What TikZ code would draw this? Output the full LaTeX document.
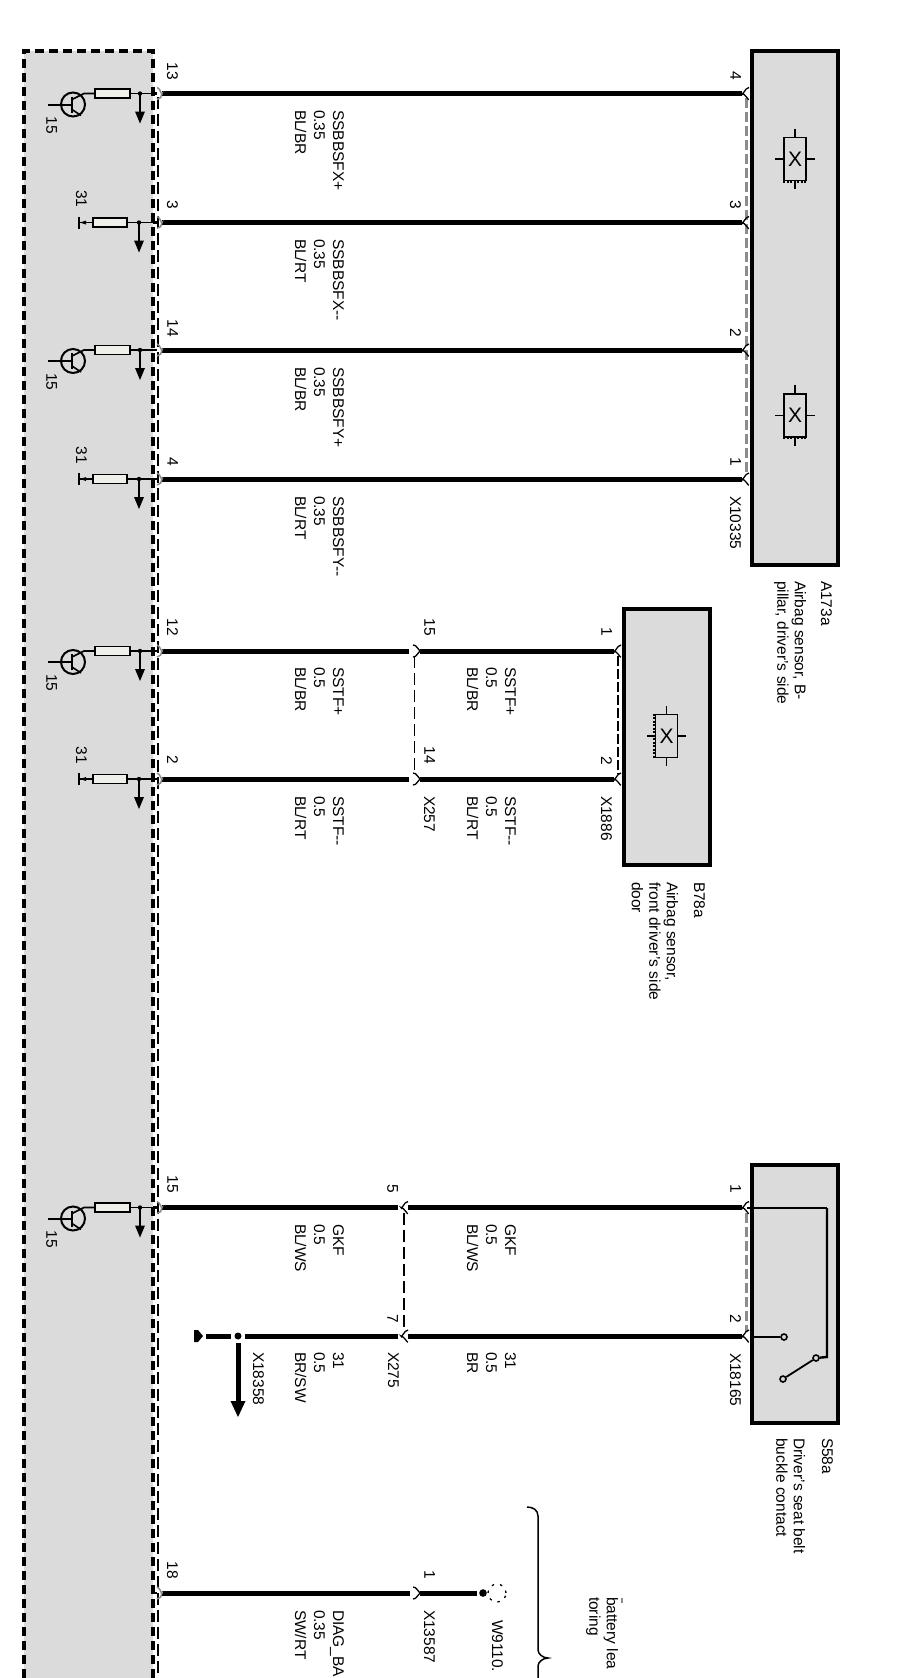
\documentclass[tikz,border=0pt]{standalone}
\usepackage{fontspec}
\setmainfont{Liberation Sans}
\usetikzlibrary{calc}
\definecolor{modgrey}{HTML}{DBDBDB}
\definecolor{resfill}{HTML}{F0F0EA}
\definecolor{pingrey}{HTML}{8C8C8C}
\tikzset{
  txt/.style={rotate=-90,inner sep=0pt,outer sep=0pt,anchor=north west,align=left,font=\fontsize{15.5}{19}\selectfont},
  desc/.style={txt,font=\fontsize{15.5}{17.5}\selectfont},
  pin/.style={rotate=-90,inner sep=0pt,outer sep=0pt,anchor=north east,font=\fontsize{15.5}{17}\selectfont},
  wire/.style={line width=5pt},
  modbox/.style={draw=black,line width=3.4pt,fill=modgrey,line join=miter},
  moddash/.style={draw=black,line width=3.2pt,dash pattern=on 9pt off 5pt},
  thindash/.style={draw=black,line width=1.3pt,dash pattern=on 12pt off 5pt},
  greydash/.style={draw=pingrey,line width=3.2pt,dash pattern=on 10pt off 4pt},
  blackdash/.style={draw=black,line width=1.7pt,dash pattern=on 10pt off 3pt},
  stub/.style={draw=black,line width=1.6pt},
  res/.style={draw=black,line width=1.6pt,fill=resfill},
  sym/.style={draw=black,line width=1.6pt,fill=modgrey},
  conn/.style={draw=black,line width=1.3pt},
  connw/.style={draw=pingrey,line width=1.5pt},
  serr/.style={draw=black,line width=2.6pt,dash pattern=on 2pt off 1.5pt},
}
% wire between two named ends
\newcommand{\wireseg}[4]{\coordinate (#1a) at (#2,#4); \coordinate (#1b) at (#3,#4); \draw[wire] (#1a) -- (#1b);}
% connector glyphs
\newcommand{\connleft}[2]{\draw[connw] ($(#1,#2)+(-3,-6)$) .. controls +(3,0) and +(0,3) .. ($(#1,#2)+(2,0)$) .. controls +(0,3) and +(3,0) .. ($(#1,#2)+(-3,6)$); \draw[line width=2.5pt] ($(#1,#2)+(-7,0)$) -- ($(#1,#2)+(-3,0)$);}
\newcommand{\connright}[2]{\draw[conn] ($(#1,#2)+(4,-6)$) .. controls +(-4,0) and +(0,4) .. ($(#1,#2)+(-3,0)$) .. controls +(3,0) and +(0,2) .. ($(#1,#2)+(4,6)$);}
\newcommand{\connmid}[2]{\draw[conn] ($(#1,#2)+(-3,-6)$) .. controls ($(#1,#2)+(1,-6)$) and ($(#1,#2)+(1,-2)$) .. ($(#1,#2)+(4,0)$) .. controls ($(#1,#2)+(1,2)$) and ($(#1,#2)+(1,6)$) .. ($(#1,#2)+(-3,6)$);}
% output arrow and junction
\newcommand{\tapdown}[2]{\fill (#1,#2) circle (2.2pt); \draw[line width=2pt] (#1,#2) -- ($(#1,#2)+(0,19)$); \fill ($(#1,#2)+(-5,18)$) -- ($(#1,#2)+(5,18)$) -- ($(#1,#2)+(0,30)$) -- cycle;}
% transistor driver
\newcommand{\drivert}[2]{%
  \node[res,minimum width=35pt,minimum height=9pt,inner sep=0pt] (#1r) at (112.5,#2) {};
  \coordinate (#1p) at (156,#2);
  \draw[stub] (#1r.east) -- (#1p);
  \tapdown{140}{#2}
  \node[draw=black,line width=2pt,circle,minimum size=24pt,inner sep=0pt] (#1c) at (73,#2+11) {};
  \draw[stub] (#1r.west) -- (84,#2) -- ($(#1c)+(-1,-5)$);
  \draw[line width=2pt] ($(#1c)+(-1,-8)$) -- ($(#1c)+(-1,8)$);
  \draw[stub] ($(#1c)+(-1,5)$) -- ($(#1c)+(8,11)$);
  \draw[line width=2pt] ($(#1c)+(-25,0)$) -- ($(#1c)+(-1,0)$);
  \node[pin,anchor=north west] (#1t) at (57,#2+23) {15};
}
% ground driver
\newcommand{\driverg}[2]{%
  \node[res,minimum width=34pt,minimum height=9pt,inner sep=0pt] (#1r) at (110,#2) {};
  \coordinate (#1p) at (156,#2);
  \coordinate (#1g) at (80,#2);
  \draw[stub] (#1r.east) -- (#1p);
  \tapdown{139}{#2}
  \draw[stub] (#1r.west) -- (#1g);
  \fill (#1g) -- ($(#1g)+(6,-2)$) -- ($(#1g)+(6,2)$) -- cycle;
  \draw[line width=2.6pt] ($(#1g)+(-1,-6)$) -- ($(#1g)+(-1,6)$);
  \node[pin] (#1t) at (87,#2-15) {31};
}
% sensor symbol
\newcommand{\sensor}[3]{%
  \node[sym,minimum width=22pt,minimum height=43pt,inner sep=0pt,font=\fontsize{21}{21}\selectfont] (#1) at (#2,#3) {X};
  \draw[stub] (#1.north) -- ++(0,-8); \draw[stub] (#1.south) -- ++(0,8);
  \draw[stub] (#1.west) -- ++(-8,0); \draw[stub] (#1.east) -- ++(8,0);
}
\begin{document}
\begin{tikzpicture}[x=1pt,y=-1pt]
\useasboundingbox (0,0) rectangle (904,1678);
% control unit
\fill[modgrey] (24,51) rectangle (153,1678);
\coordinate (mA) at (24,1678); \coordinate (mB) at (24,51); \coordinate (mC) at (153,51); \coordinate (mD) at (153,1678);
\draw[moddash] (mA) -- (mB) -- (mC) -- (mD);
\coordinate (cA) at (158,97); \coordinate (cB) at (158,1678);
\draw[thindash] (cA) -- (cB);
% boxes
\draw[modbox] (752,51) rectangle (838,565);
\draw[modbox] (624,609) rectangle (710,865);
\draw[modbox] (752,1165) rectangle (838,1423);
% dashed shields
\coordinate (gA) at (746.5,98); \coordinate (gB) at (746.5,474);
\draw[greydash] (gA) -- (gB);
\coordinate (gC) at (746.5,1213); \coordinate (gD) at (746.5,1332);
\draw[greydash] (gC) -- (gD);
\coordinate (bA) at (618,656); \coordinate (bB) at (618,774);
\draw[blackdash] (bA) -- (bB);
\coordinate (tA) at (414.5,656); \coordinate (tB) at (414.5,774);
\draw[thindash] (tA) -- (tB);
\coordinate (uA) at (404,1213); \coordinate (uB) at (404,1331);
\draw[thindash] (uA) -- (uB);
% wires
\wireseg{w1}{162}{742}{93.5}
\wireseg{w2}{162}{742}{222.5}
\wireseg{w3}{162}{742}{350}
\wireseg{w4}{162}{742}{479}
\wireseg{w5}{162}{409}{651}
\wireseg{w5x}{420}{614}{651}
\wireseg{w6}{162}{409}{779}
\wireseg{w6x}{420}{614}{779}
\wireseg{w7}{162}{398}{1207.5}
\wireseg{w7x}{408}{742}{1207.5}
\wireseg{w8}{245}{398}{1336}
\wireseg{w8x}{408}{742}{1336}
\wireseg{w8g}{206}{231}{1336}
\wireseg{w9}{162}{410}{1593}
\wireseg{w9x}{420}{477}{1593}
% connector glyphs
\connleft{160}{93.5}\connleft{160}{222.5}\connleft{160}{350}\connleft{160}{479}
\connleft{160}{651}\connleft{160}{779}\connleft{160}{1207.5}\connleft{160}{1593}
\connright{745}{93.5}\connright{745}{222.5}\connright{745}{350}\connright{745}{479}
\connright{745}{1207.5}\connright{745}{1336}
\connright{617}{651}\connright{617}{779}
\connmid{416}{651}\connmid{416}{779}\connright{404}{1207.5}\connright{404}{1336}\connmid{416}{1593}
% drivers
\drivert{d1}{93.5}
\driverg{d2}{222.5}
\drivert{d3}{350}
\driverg{d4}{479}
\drivert{d5}{651}
\driverg{d6}{779}
\drivert{d7}{1207.5}
% ground stub with arrow
\coordinate (g1) at (195,1336);
\fill (194,1330) -- (198,1330) -- (203,1336) -- (198,1342) -- (194,1342) -- cycle;
\fill (238,1336) circle (3.5pt);
\coordinate (g2) at (238,1343); \coordinate (g3) at (238,1402);
\draw[wire] (g2) -- (g3);
\fill (230.5,1401) -- (245.5,1401) -- (238,1417) -- cycle;
% open end
\fill (483,1593) circle (3.8pt);
\node[draw=black,circle,line width=1.3pt,dash pattern=on 2.5pt off 6pt,minimum size=18pt,inner sep=0pt] (w9110c) at (497,1593) {};
% sensors
\sensor{s1}{795}{159}
\sensor{s2}{795}{415.5}
\sensor{s3}{666.5}{736}
\draw[serr] (s1.south west) -- (s1.south east);
\draw[serr] (s2.south west) -- (s2.south east);
\draw[serr] (s3.north west) -- (s3.south west);
% switch
\coordinate (k1) at (747,1208); \coordinate (k2) at (827,1208); \coordinate (k3) at (827,1357); \coordinate (k6) at (751,1337); \coordinate (k7) at (781,1337);
\node[draw=black,circle,line width=1.6pt,minimum size=6pt,inner sep=0pt] (k4) at (816,1358) {};
\node[draw=black,circle,line width=1.6pt,minimum size=6pt,inner sep=0pt] (k5) at (783,1379) {};
\node[draw=black,circle,line width=1.6pt,minimum size=6pt,inner sep=0pt] (k8) at (784,1337) {};
\draw[line width=1.2pt] (k1) -- (k2);
\draw[line width=2.4pt] (k2) -- (k3) -- (k4);
\draw[line width=1.8pt] (k4) -- (k5);
\draw[line width=2.4pt] (k6) -- (k8);
% brace
\coordinate (br1) at (527,1507); \coordinate (br2) at (538,1516); \coordinate (br3) at (538,1650); \coordinate (br4) at (548,1658); \coordinate (br5) at (538,1666); \coordinate (br6) at (538,1678);
\draw[line width=1.5pt] (br1) .. controls (533,1507) and (538,1510) .. (br2) -- (br3) .. controls (538,1654) and (543,1658) .. (br4) .. controls (543,1658) and (538,1662) .. (br5) -- (br6);
\coordinate (m1) at (622,1598); \coordinate (m2) at (622,1603);
\draw[pingrey,line width=1.4pt] (m1) -- (m2);
% left column labels
\node[txt] (l1) at (344,110) {SSBBSFX+\\0.35\\BL/BR};
\node[txt] (l2) at (344,239) {SSBBSFX-{}-\\0.35\\BL/RT};
\node[txt] (l3) at (344,367) {SSBBSFY+\\0.35\\BL/BR};
\node[txt] (l4) at (344,496) {SSBBSFY-{}-\\0.35\\BL/RT};
\node[txt] (l5) at (344,667) {SSTF+\\0.5\\BL/BR};
\node[txt] (l6) at (344,796) {SSTF-{}-\\0.5\\BL/RT};
\node[txt] (l7) at (344,1224) {GKF\\0.5\\BL/WS};
\node[txt] (l8) at (344,1352) {31\\0.5\\BR/SW};
\node[txt] (l9) at (344,1610) {DIAG\_BA\\0.35\\SW/RT};
% right column labels
\node[txt] (r5) at (516,667) {SSTF+\\0.5\\BL/BR};
\node[txt] (r6) at (516,796) {SSTF-{}-\\0.5\\BL/RT};
\node[txt] (r7) at (516,1224) {GKF\\0.5\\BL/WS};
\node[txt] (r8) at (516,1352) {31\\0.5\\BR};
% pin numbers, control unit
\node[pin] (p13) at (178,80) {13};
\node[pin] (p3) at (178,209) {3};
\node[pin] (p14) at (178,337) {14};
\node[pin] (p4) at (178,466) {4};
\node[pin] (p12) at (178,636) {12};
\node[pin] (p2) at (178,764) {2};
\node[pin] (p15) at (178,1193) {15};
\node[pin] (p18) at (178,1579) {18};
% pin numbers, far side
\node[pin] (q4) at (741,80) {4};
\node[pin] (q3) at (741,209) {3};
\node[pin] (q2) at (741,337) {2};
\node[pin] (q1) at (741,466) {1};
\node[pin] (q5) at (435,636) {15};
\node[pin] (q6) at (435,764) {14};
\node[pin] (q7) at (612,636) {1};
\node[pin] (q8) at (612,765) {2};
\node[pin] (q9) at (398,1193) {5};
\node[pin] (q10) at (398,1323) {7};
\node[pin] (q11) at (741,1193) {1};
\node[pin] (q12) at (741,1323) {2};
\node[pin] (q13) at (435,1579) {1};
% connector names
\node[txt] (x1) at (741,496) {X10335};
\node[txt] (x2) at (612,796) {X1886};
\node[txt] (x3) at (435,796) {X257};
\node[txt] (x4) at (741,1353) {X18165};
\node[txt] (x5) at (399,1352) {X275};
\node[txt] (x6) at (264,1352) {X18358};
\node[txt] (x7) at (435,1610) {X13587};
\node[txt] (x8) at (503,1620) {W9110.};
% component names
\node[txt] (n1) at (832,581) {A173a};
\node[desc] (n1d) at (806,581) {Airbag sensor, B-\\pillar, driver's side};
\node[txt] (n2) at (705,882) {B78a};
\node[desc] (n2d) at (678,882) {Airbag sensor,\\front driver's side\\door};
\node[txt] (n3) at (833,1438) {S58a};
\node[desc] (n3d) at (805,1438) {Driver's seat belt\\buckle contact};
\node[desc] (n4) at (618,1597) {battery lea\\toring};
\end{tikzpicture}
\end{document}
